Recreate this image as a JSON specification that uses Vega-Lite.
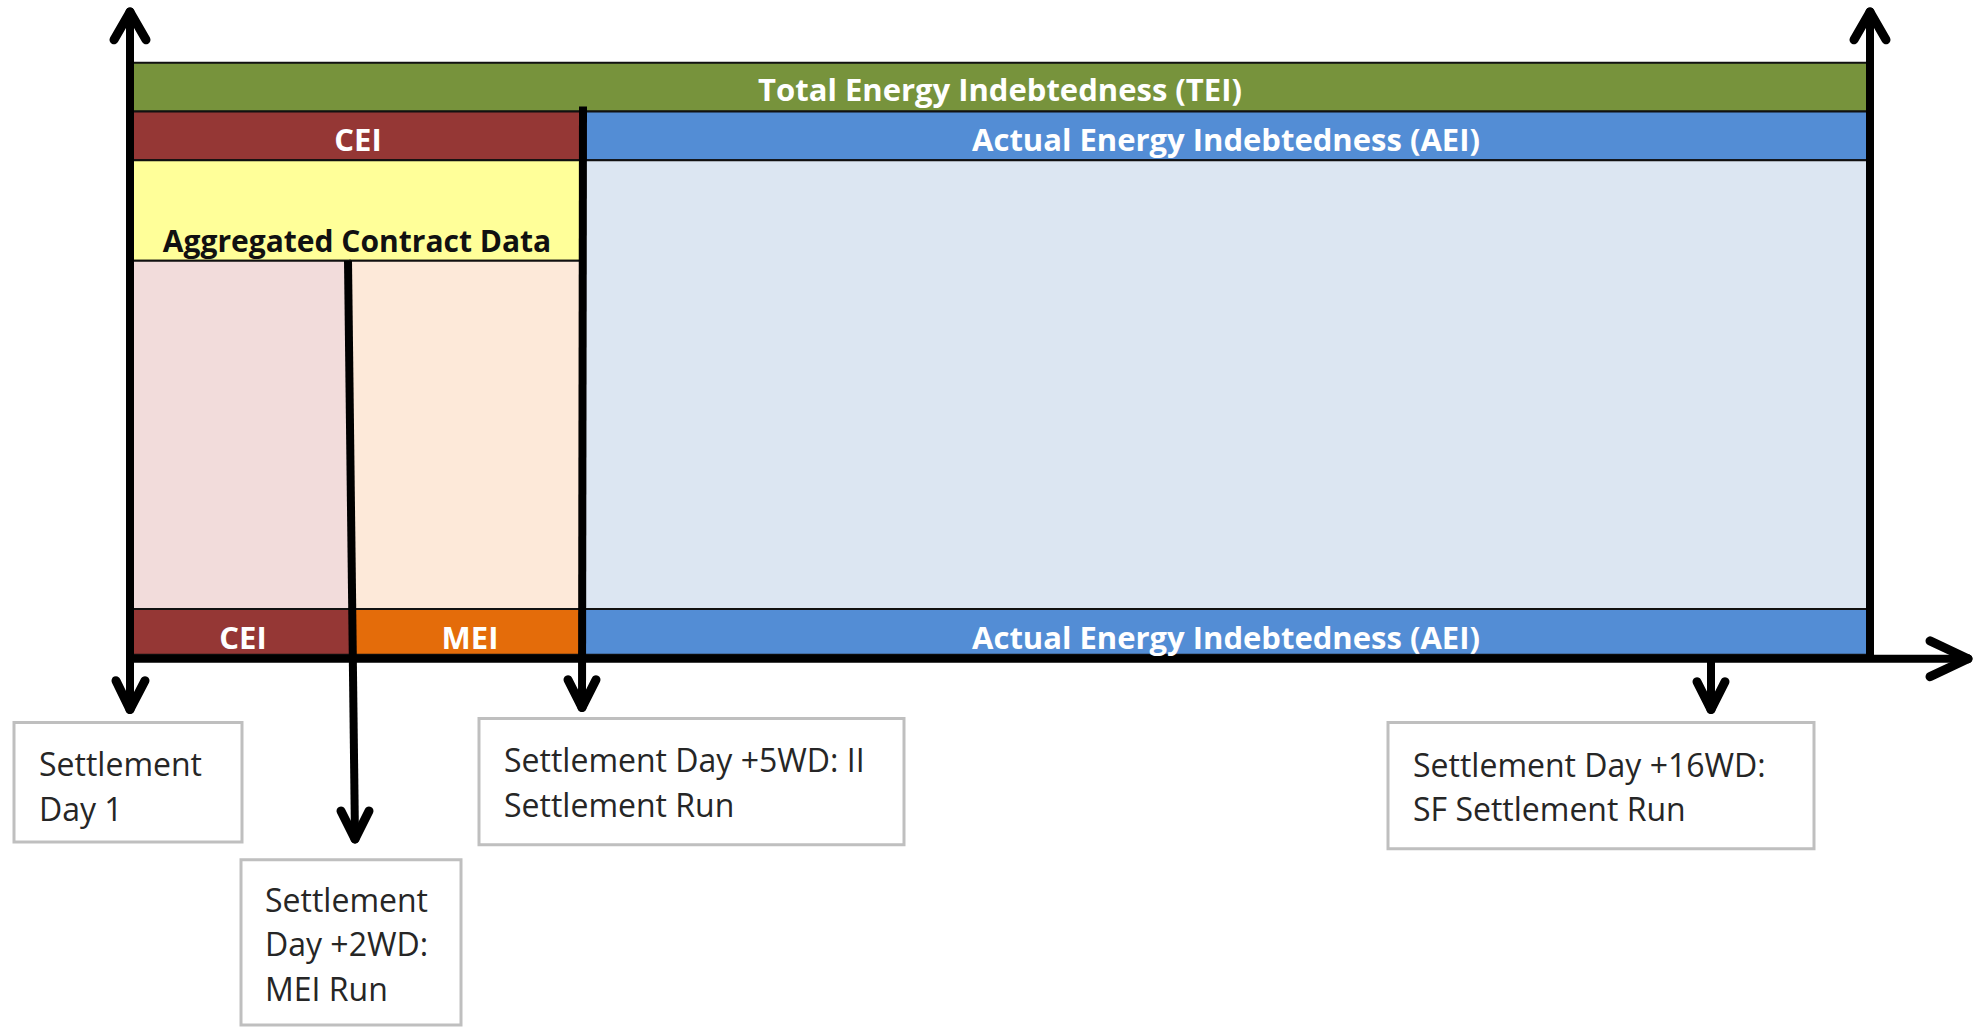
{
  "$schema": "https://vega.github.io/schema/vega-lite/v6.json",
  "autosize": {"type": "fit", "contains": "padding"},
  "width": 1977,
  "height": 1027,
  "padding": 0,
  "background": "white",
  "config": {"view": {"stroke": null}},
  "datasets": {
    "bands": [
      {"part": "tei", "x": 133, "x2": 1867, "y": 63, "y2": 112},
      {"part": "cei", "x": 133, "x2": 583, "y": 112, "y2": 161},
      {"part": "aei", "x": 583, "x2": 1867, "y": 112, "y2": 161},
      {"part": "acd", "x": 133, "x2": 583, "y": 161, "y2": 262},
      {"part": "cei_zone", "x": 133, "x2": 350, "y": 262, "y2": 612},
      {"part": "mei_zone", "x": 350, "x2": 583, "y": 262, "y2": 612},
      {"part": "aei_zone", "x": 583, "x2": 1867, "y": 161, "y2": 612},
      {"part": "cei", "x": 133, "x2": 350, "y": 612, "y2": 658},
      {"part": "mei", "x": 350, "x2": 583, "y": 612, "y2": 658},
      {"part": "aei", "x": 583, "x2": 1867, "y": 612, "y2": 658}
    ],
    "boxes": [
      {"x": 14, "x2": 242, "y": 726, "y2": 846},
      {"x": 241, "x2": 461, "y": 864, "y2": 1030},
      {"x": 479, "x2": 904, "y": 722, "y2": 849},
      {"x": 1388, "x2": 1814, "y": 726, "y2": 853}
    ],
    "lines": [
      {"x": 130, "y": 12, "x2": 130, "y2": 712},
      {"x": 1870, "y": 12, "x2": 1870, "y2": 662},
      {"x": 128, "y": 662, "x2": 1966, "y2": 662},
      {"x": 583, "y": 107, "x2": 582, "y2": 710},
      {"x": 348, "y": 262, "x2": 355, "y2": 842},
      {"x": 1711, "y": 662, "x2": 1711, "y2": 712}
    ],
    "heads": [
      {"x": 130, "y": 12, "x2": 114, "y2": 40},
      {"x": 130, "y": 12, "x2": 146, "y2": 40},
      {"x": 1870, "y": 12, "x2": 1854, "y2": 40},
      {"x": 1870, "y": 12, "x2": 1886, "y2": 40},
      {"x": 1968, "y": 662, "x2": 1930, "y2": 644},
      {"x": 1968, "y": 662, "x2": 1930, "y2": 680},
      {"x": 130, "y": 713, "x2": 116, "y2": 684},
      {"x": 130, "y": 713, "x2": 145, "y2": 684},
      {"x": 582, "y": 711, "x2": 568, "y2": 683},
      {"x": 582, "y": 711, "x2": 596, "y2": 683},
      {"x": 355, "y": 843, "x2": 341, "y2": 815},
      {"x": 355, "y": 843, "x2": 369, "y2": 815},
      {"x": 1711, "y": 713, "x2": 1697, "y2": 685},
      {"x": 1711, "y": 713, "x2": 1725, "y2": 685}
    ],
    "banner_labels": [
      {"label": "Total Energy Indebtedness (TEI)", "x": 1000, "y": 92},
      {"label": "CEI", "x": 358, "y": 143},
      {"label": "Actual Energy Indebtedness (AEI)", "x": 1226, "y": 143},
      {"label": "CEI", "x": 243, "y": 643},
      {"label": "MEI", "x": 470, "y": 643},
      {"label": "Actual Energy Indebtedness (AEI)", "x": 1226, "y": 643}
    ],
    "zone_labels": [
      {"label": "Aggregated Contract Data", "x": 357, "y": 244}
    ],
    "box_labels": [
      {"label": "Settlement", "x": 39, "y": 770},
      {"label": "Day 1", "x": 39, "y": 815},
      {"label": "Settlement", "x": 265, "y": 906},
      {"label": "Day +2WD:", "x": 265, "y": 951},
      {"label": "MEI Run", "x": 265, "y": 996},
      {"label": "Settlement Day +5WD: II", "x": 504, "y": 766},
      {"label": "Settlement Run", "x": 504, "y": 811},
      {"label": "Settlement Day +16WD:", "x": 1413, "y": 771},
      {"label": "SF Settlement Run", "x": 1413, "y": 815}
    ]
  },
  "encoding": {
    "x": {"field": "x", "type": "quantitative", "scale": {"domain": [0, 1977], "nice": false, "zero": false}, "axis": null},
    "y": {"field": "y", "type": "quantitative", "scale": {"domain": [0, 1027], "nice": false, "zero": false, "reverse": true}, "axis": null}
  },
  "layer": [
    {
      "data": {"name": "bands"},
      "mark": {"type": "rect", "stroke": "#111111", "strokeWidth": 2},
      "encoding": {
        "x2": {"field": "x2"},
        "y2": {"field": "y2"},
        "fill": {
          "field": "part", "type": "nominal", "legend": null,
          "scale": {
            "domain": ["tei", "cei", "aei", "acd", "cei_zone", "mei_zone", "aei_zone", "mei"],
            "range": ["#77933C", "#953735", "#538DD5", "#FFFF99", "#F2DCDB", "#FDE9D9", "#DCE6F2", "#E46C0A"]
          }
        }
      }
    },
    {
      "data": {"name": "boxes"},
      "mark": {"type": "rect", "fill": "white", "stroke": "#BFBFBF", "strokeWidth": 3},
      "encoding": {"x2": {"field": "x2"}, "y2": {"field": "y2"}}
    },
    {
      "data": {"name": "lines"},
      "mark": {"type": "rule", "color": "black", "strokeWidth": 8, "strokeCap": "butt"},
      "encoding": {"x2": {"field": "x2"}, "y2": {"field": "y2"}}
    },
    {
      "data": {"name": "heads"},
      "mark": {"type": "rule", "color": "black", "strokeWidth": 9, "strokeCap": "round"},
      "encoding": {"x2": {"field": "x2"}, "y2": {"field": "y2"}}
    },
    {
      "data": {"name": "banner_labels"},
      "mark": {"type": "text", "font": "Open Sans", "fontWeight": "bold", "fontSize": 31, "color": "white", "align": "center", "baseline": "middle"},
      "encoding": {"text": {"field": "label"}}
    },
    {
      "data": {"name": "zone_labels"},
      "mark": {"type": "text", "font": "Open Sans", "fontWeight": "bold", "fontSize": 30, "color": "#111111", "align": "center", "baseline": "middle"},
      "encoding": {"text": {"field": "label"}}
    },
    {
      "data": {"name": "box_labels"},
      "mark": {"type": "text", "font": "Open Sans", "fontSize": 32, "color": "#262626", "align": "left", "baseline": "middle"},
      "encoding": {"text": {"field": "label"}}
    }
  ]
}
